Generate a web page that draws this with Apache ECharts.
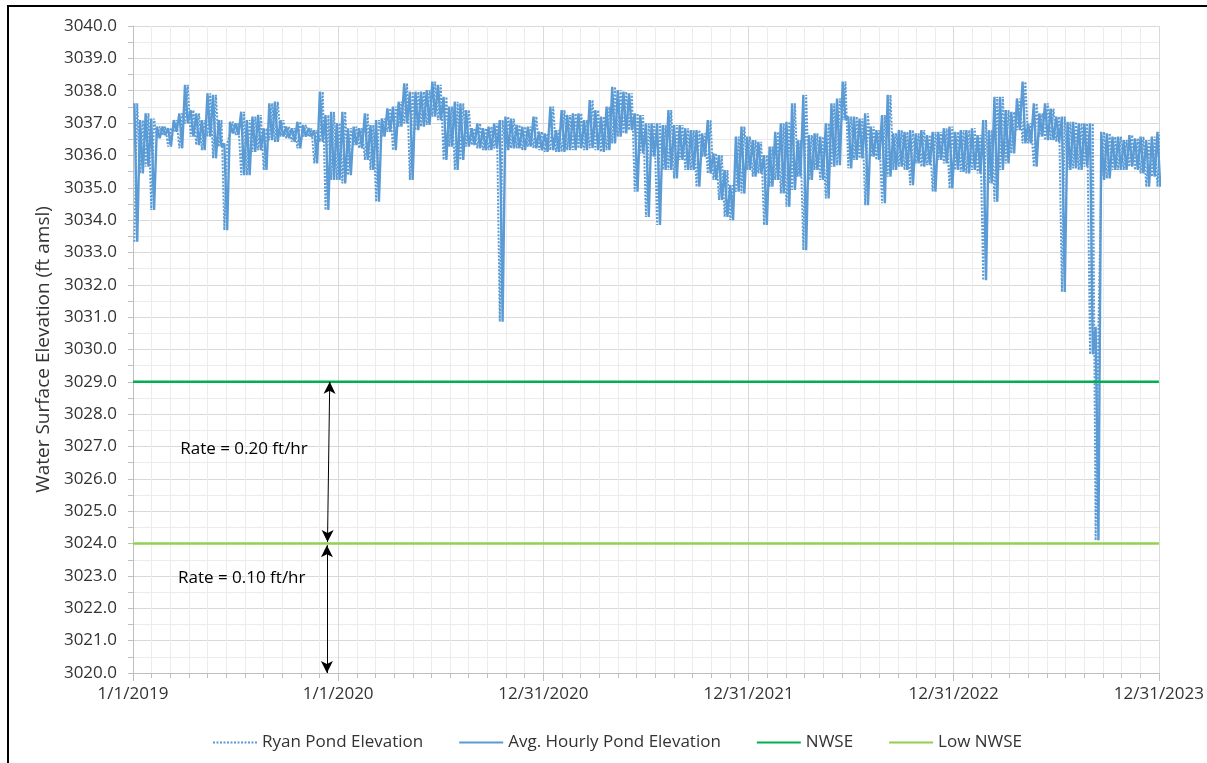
<!DOCTYPE html>
<html>
<head>
<meta charset="utf-8">
<script src="https://cdn.jsdelivr.net/npm/echarts@6/dist/echarts.min.js"></script>
<style>
html,body{margin:0;padding:0;background:#fff;}
#chart{width:1207px;height:763px;}
</style>
</head>
<body>
<div id="chart"></div>
<script>
// ---- Data ----
// Days since 1/1/2019; each window spans 10 days; high = window max, low = window min (ft amsl)
const windowDays = 10;
const elevHigh = [
3037.61,3037.09,3037.30,3037.14,3036.89,3036.89,3036.84,3037.09,3037.30,3038.18,
3037.40,3037.30,3037.09,3037.92,3037.87,3037.09,3036.37,3037.04,3036.99,3037.35,
3037.09,3037.20,3037.25,3036.84,3037.61,3037.66,3037.09,3036.89,3036.84,3037.04,
3036.94,3036.84,3036.78,3037.97,3037.25,3037.35,3037.00,3037.35,3036.84,3036.89,
3036.84,3037.30,3036.94,3037.09,3037.14,3037.45,3037.51,3037.66,3038.23,3037.97,
3037.97,3037.97,3038.02,3038.28,3038.18,3037.81,3037.51,3037.66,3037.61,3037.40,
3036.84,3036.99,3036.84,3036.89,3036.99,3037.09,3037.20,3037.14,3036.94,3036.89,
3036.89,3037.20,3036.73,3036.68,3037.51,3036.78,3037.40,3037.25,3037.30,3037.30,
3037.09,3037.71,3037.40,3037.20,3037.51,3038.12,3038.02,3037.97,3037.92,3037.30,
3037.25,3036.99,3036.99,3036.99,3036.94,3037.40,3036.94,3036.94,3036.84,3036.78,
3036.78,3036.68,3037.09,3036.06,3036.01,3035.55,3035.08,3036.58,3036.89,3036.58,
3036.47,3036.42,3036.01,3036.27,3036.73,3036.99,3037.04,3037.61,3036.47,3037.87,
3036.63,3036.68,3036.58,3036.99,3037.61,3037.76,3038.28,3037.20,3037.20,3037.14,
3037.30,3036.89,3036.78,3037.25,3037.87,3036.68,3036.78,3036.73,3036.78,3036.68,
3036.78,3036.63,3036.73,3036.73,3036.84,3036.89,3036.73,3036.78,3036.78,3036.84,
3036.63,3037.09,3036.78,3037.81,3037.81,3037.40,3037.35,3037.76,3038.28,3036.99,
3037.61,3037.30,3037.61,3037.45,3037.20,3037.20,3037.04,3037.04,3036.99,3036.99,
3036.99,3030.70,3036.73,3036.68,3036.58,3036.58,3036.47,3036.63,3036.53,3036.58,
3036.47,3036.58,3036.73
];
const elevLow = [
3033.33,3035.44,3035.65,3034.31,3036.53,3036.63,3036.27,3036.73,3036.22,3036.99,
3036.58,3036.32,3036.16,3036.58,3035.91,3036.27,3033.69,3036.68,3036.63,3035.39,
3035.39,3036.11,3036.16,3035.55,3036.47,3036.42,3036.58,3036.53,3036.42,3036.22,
3036.58,3036.58,3035.75,3036.42,3034.31,3035.24,3035.24,3035.13,3035.39,3036.32,
3036.22,3035.86,3035.55,3034.57,3036.58,3036.73,3036.16,3036.89,3036.99,3035.24,
3036.78,3036.89,3036.94,3037.20,3037.09,3035.86,3036.27,3035.55,3035.86,3036.27,
3036.32,3036.22,3036.16,3036.16,3036.22,3030.86,3036.16,3036.22,3036.22,3036.16,
3036.27,3036.22,3036.16,3036.11,3036.16,3036.11,3036.11,3036.16,3036.16,3036.22,
3036.16,3036.22,3036.16,3036.11,3036.16,3036.37,3036.58,3036.68,3036.78,3034.88,
3036.06,3034.10,3035.96,3033.85,3035.55,3035.55,3035.29,3035.86,3035.55,3035.55,
3035.03,3035.96,3035.44,3035.24,3034.62,3034.10,3034.00,3034.88,3034.82,3035.55,
3035.34,3035.44,3033.85,3035.03,3035.24,3034.82,3034.41,3034.93,3035.34,3033.07,
3035.24,3035.55,3035.24,3034.67,3035.65,3035.70,3037.09,3035.60,3035.86,3035.91,
3034.46,3035.96,3035.86,3034.52,3035.34,3035.55,3035.65,3035.55,3035.08,3035.75,
3035.65,3035.70,3034.88,3035.86,3035.75,3034.98,3035.55,3035.49,3035.44,3035.55,
3035.44,3032.14,3035.13,3034.57,3035.55,3035.75,3036.06,3036.78,3036.37,3036.37,
3035.65,3036.58,3036.47,3036.47,3036.42,3031.78,3035.55,3035.60,3035.55,3035.65,
3029.85,3024.10,3035.24,3035.29,3035.55,3035.55,3035.55,3035.65,3035.55,3035.44,
3035.03,3035.34,3035.03
];
const nwseLevel = 3029.0;
const lowNwseLevel = 3024.0;
const axisDays = [0, 1825];
const xTickLabels = ['1/1/2019','1/1/2020','12/31/2020','12/31/2021','12/31/2022','12/31/2023'];
const seriesNames = ['Ryan Pond Elevation','Avg. Hourly Pond Elevation','NWSE','Low NWSE'];
// annotation arrows (day, elevation)
const arrowUpper = [[350, 3029.0],[346, 3024.05]];
const arrowLower = [[345, 3023.95],[345, 3020.0]];
const rateLabels = [
  {text:'Rate = 0.20 ft/hr', at:[84, 3026.92]},
  {text:'Rate = 0.10 ft/hr', at:[80, 3022.94]}
];

// ---- build series tables ----
// hourly average: high then low within each window; raw readings: low then high
const avgTrace = [];
const rawTrace = [];
for (let k = 0; k < elevHigh.length; k++) {
  avgTrace.push([k * windowDays + 2.5, elevHigh[k]]);
  avgTrace.push([k * windowDays + 7.5, elevLow[k]]);
  rawTrace.push([k * windowDays + 2.5, elevLow[k]]);
  rawTrace.push([k * windowDays + 7.5, elevHigh[k]]);
}
const FONT = 'Open Sans';
const TXT = '#333333';
const BLUE = '#5b9bd5';
const chart = echarts.init(document.getElementById('chart'), null, {renderer:'canvas'});
chart.setOption({
  animation: false,
  backgroundColor: '#ffffff',
  textStyle: {fontFamily: FONT},
  grid: {left:133, right:48, top:26, bottom:90, containLabel:false},
  legend: {
    data: seriesNames,
    left: 207, top: 729,
    itemWidth: 44, itemHeight: 14, itemGap: 35,
    itemStyle: {opacity: 0},
    textStyle: {fontSize:17, color:TXT, fontFamily:FONT}
  },
  xAxis: {
    type:'value', min:axisDays[0], max:axisDays[1], interval:365,
    axisLine:{show:true, lineStyle:{color:'#bfbfbf', width:1}},
    axisTick:{show:true, length:8, lineStyle:{color:'#bfbfbf'}},
    minorTick:{show:true, splitNumber:11, length:5, lineStyle:{color:'#bfbfbf'}},
    splitLine:{show:true, lineStyle:{color:'#d9d9d9', width:1}},
    minorSplitLine:{show:true, lineStyle:{color:'#ececec', width:1}},
    axisLabel:{margin:13, fontSize:17, color:TXT, fontFamily:FONT,
      showMinLabel:true, showMaxLabel:true,
      formatter: v => xTickLabels[Math.round(v/365)]}
  },
  yAxis: {
    type:'value', min:3020, max:3040, interval:1,
    name:'Water Surface Elevation (ft amsl)', nameLocation:'middle', nameGap:77,
    nameTextStyle:{fontSize:19, color:TXT, fontFamily:FONT},
    axisLine:{show:true, lineStyle:{color:'#bfbfbf', width:1}},
    axisTick:{show:true, length:5, lineStyle:{color:'#bfbfbf'}},
    minorTick:{show:true, splitNumber:2, length:5, lineStyle:{color:'#bfbfbf'}},
    splitLine:{show:true, lineStyle:{color:'#d9d9d9', width:1}},
    minorSplitLine:{show:true, lineStyle:{color:'#ececec', width:1}},
    axisLabel:{margin:16, fontSize:17, color:TXT, fontFamily:FONT,
      formatter: v => v.toFixed(1)}
  },
  series: [
    {name:seriesNames[0], type:'line', data:rawTrace, symbol:'none', showSymbol:false,
     lineStyle:{color:BLUE, width:2, type:[2,1.5]}, itemStyle:{color:BLUE}, z:2},
    {name:seriesNames[1], type:'line', data:avgTrace, symbol:'none', showSymbol:false,
     lineStyle:{color:BLUE, width:2.4}, itemStyle:{color:BLUE}, z:3},
    {name:seriesNames[2], type:'line', data:[[axisDays[0], nwseLevel],[axisDays[1], nwseLevel]],
     symbol:'none', lineStyle:{color:'#00b050', width:2.5}, itemStyle:{color:'#00b050'}, z:4,
     markLine:{silent:true, symbol:['arrow','arrow'], symbolSize:[9,12], animation:false,
       label:{show:false}, lineStyle:{color:'#000', width:1, type:'solid'},
       data:[
         [{coord:arrowUpper[0]},{coord:arrowUpper[1]}],
         [{coord:arrowLower[0]},{coord:arrowLower[1]}]
       ]}},
    {name:seriesNames[3], type:'line', data:[[axisDays[0], lowNwseLevel],[axisDays[1], lowNwseLevel]],
     symbol:'none', lineStyle:{color:'#92d050', width:2.5}, itemStyle:{color:'#92d050'}, z:4}
  ]
});
const g = [
  {type:'line', shape:{x1:8,y1:5,x2:8,y2:763}, style:{stroke:'#000', lineWidth:2}, silent:true},
  {type:'line', shape:{x1:7,y1:6,x2:1207,y2:6}, style:{stroke:'#000', lineWidth:2}, silent:true}
];
rateLabels.forEach(r => {
  const p = chart.convertToPixel({gridIndex:0}, r.at);
  g.push({type:'text', x:p[0], y:p[1], silent:true, z:100,
    style:{text:r.text, fill:'#000', font:'17px "Open Sans"', textAlign:'left', textVerticalAlign:'middle'}});
});
chart.setOption({graphic: g});
</script>
</body>
</html>
